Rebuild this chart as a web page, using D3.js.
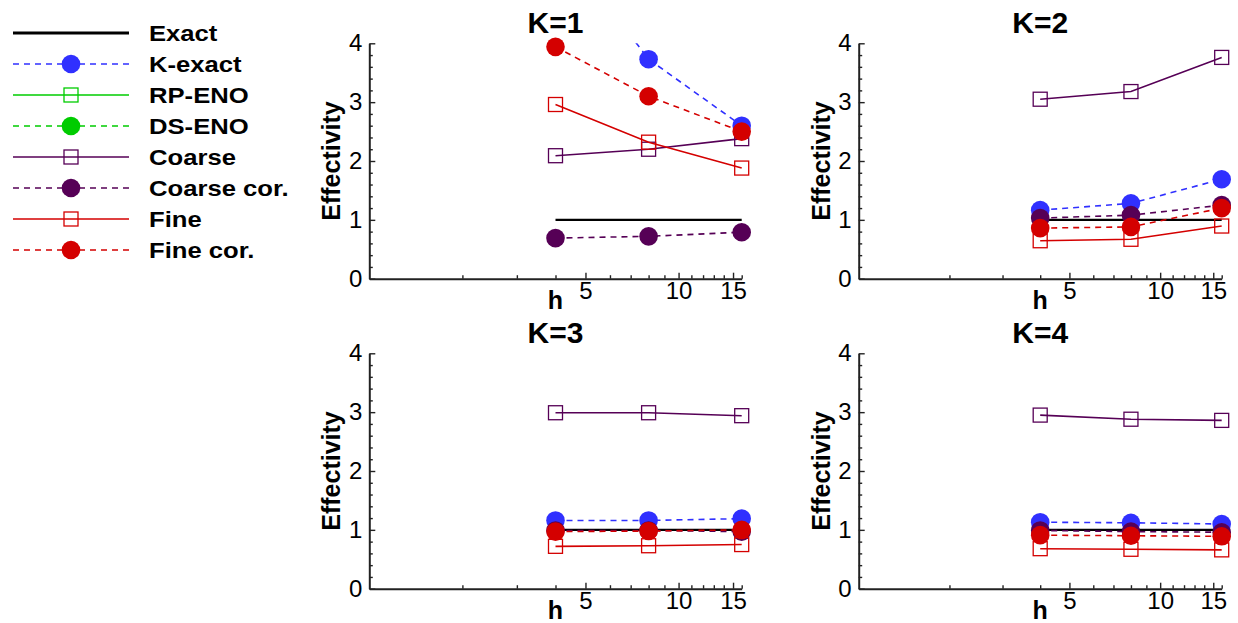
<!DOCTYPE html>
<html>
<head>
<meta charset="utf-8">
<script src="https://cdn.jsdelivr.net/npm/d3@7"></script>
<style>
  html, body { margin: 0; padding: 0; background: #fff; }
  svg { display: block; font-family: Arial, "Liberation Sans", Helvetica, sans-serif; }
</style>
</head>
<body>
<svg id="chart" width="1238" height="623"></svg>
<script>
// Mesh size values (log axis) and tick labels
const hValues = [4, 8, 16];
const xMajorTicks = [5, 10, 15];
const xMinorTicks = [2, 3, 4, 6, 7, 8, 9, 11, 12, 13, 14, 16];
const yMajorTicks = [0, 1, 2, 3, 4];
const yMinorTicks = [0.2, 0.4, 0.6, 0.8, 1.2, 1.4, 1.6, 1.8, 2.2, 2.4, 2.6, 2.8, 3.2, 3.4, 3.6, 3.8];

const panelTitles = ["K=1", "K=2", "K=3", "K=4"];
const seriesNames = ["Exact", "K-exact", "RP-ENO", "DS-ENO", "Coarse", "Coarse cor.", "Fine", "Fine cor."];

// Effectivity per panel (K=1..4), one value per h
const exact     = [[1, 1, 1], [1, 1, 1], [1, 1, 1], [1, 1, 1]];
const kExact    = [[5.8, 3.73, 2.6], [1.165, 1.28, 1.69], [1.16, 1.16, 1.19], [1.13, 1.12, 1.10]];
const rpEno     = [[], [], [], []];
const dsEno     = [[], [], [], []];
const coarse    = [[2.09, 2.2, 2.38], [3.05, 3.18, 3.76], [2.99, 2.99, 2.94], [2.95, 2.88, 2.86]];
const coarseCor = [[0.69, 0.72, 0.79], [1.03, 1.08, 1.25], [0.99, 0.99, 0.97], [0.99, 0.97, 0.96]];
const fine      = [[2.96, 2.32, 1.88], [0.645, 0.67, 0.895], [0.72, 0.73, 0.75], [0.68, 0.67, 0.66]];
const fineCor   = [[3.94, 3.1, 2.5], [0.86, 0.88, 1.2], [0.97, 0.98, 1.0], [0.91, 0.90, 0.89]];

const BLUE = "#3030ff", GREEN = "#00cc00", PURPLE = "#560056", RED = "#d40000";

const series = [
  { name: seriesNames[0], values: exact,     color: "#000", dash: null,  marker: "none",   width: 2.4 },
  { name: seriesNames[1], values: kExact,    color: BLUE,   dash: "6,5", marker: "circle", width: 1.6 },
  { name: seriesNames[2], values: rpEno,     color: GREEN,  dash: null,  marker: "square", width: 1.6 },
  { name: seriesNames[3], values: dsEno,     color: GREEN,  dash: "6,5", marker: "circle", width: 1.6 },
  { name: seriesNames[4], values: coarse,    color: PURPLE, dash: null,  marker: "square", width: 1.6 },
  { name: seriesNames[5], values: coarseCor, color: PURPLE, dash: "6,5", marker: "circle", width: 1.6 },
  { name: seriesNames[6], values: fine,      color: RED,    dash: null,  marker: "square", width: 1.6 },
  { name: seriesNames[7], values: fineCor,   color: RED,    dash: "6,5", marker: "circle", width: 1.6 }
];

const svg = d3.select("#chart");
const R = 9.3, SQ = 14;
const TICK_FONT = 24;

// Panel frames (axis extents in pixels)
const panels = [
  { left: 369.3, right: 741.7,  top: 43.3,  bottom: 278.7 },
  { left: 858.7, right: 1221.7, top: 43.3,  bottom: 278.7 },
  { left: 369.3, right: 741.7,  top: 353.3, bottom: 588.7 },
  { left: 858.7, right: 1221.7, top: 353.3, bottom: 588.7 }
];

function drawMarker(g, type, cx, cy, color) {
  if (type === "circle") {
    g.append("circle").attr("cx", cx).attr("cy", cy).attr("r", R).attr("fill", color);
  } else if (type === "square") {
    g.append("rect").attr("x", cx - SQ / 2).attr("y", cy - SQ / 2)
      .attr("width", SQ).attr("height", SQ)
      .attr("fill", "none").attr("stroke", color).attr("stroke-width", 1.3);
  }
}

panels.forEach((p, k) => {
  const x = d3.scaleLog().domain([1, 16]).range([p.left, p.right]);
  const y = d3.scaleLinear().domain([0, 4]).range([p.bottom, p.top]);
  const g = svg.append("g");

  const clipId = "clip" + k;
  svg.append("clipPath").attr("id", clipId).append("rect")
    .attr("x", p.left - 40).attr("y", p.top)
    .attr("width", p.right - p.left + 80).attr("height", p.bottom - p.top + 40);

  // Minor ticks
  g.append("g").attr("transform", `translate(${p.left},0)`)
    .call(d3.axisLeft(y).tickValues(yMinorTicks).tickSize(-3.5).tickFormat(""))
    .call(a => a.select(".domain").remove())
    .call(a => a.selectAll("line").attr("stroke", "#222").attr("stroke-width", 1.4));
  g.append("g").attr("transform", `translate(0,${p.bottom})`)
    .call(d3.axisBottom(x).tickValues(xMinorTicks).tickSize(-3.5).tickFormat(""))
    .call(a => a.select(".domain").remove())
    .call(a => a.selectAll("line").attr("stroke", "#222").attr("stroke-width", 1.4));

  // Major axes
  g.append("g").attr("transform", `translate(${p.left},0)`)
    .call(d3.axisLeft(y).tickValues(yMajorTicks).tickSize(-6).tickSizeOuter(0).tickPadding(7).tickFormat(d3.format("d")))
    .call(a => a.select(".domain").attr("stroke", "#222").attr("stroke-width", 2))
    .call(a => a.selectAll("line").attr("stroke", "#222").attr("stroke-width", 1.4))
    .call(a => a.selectAll("text").attr("font-size", TICK_FONT).attr("fill", "#000")
      .attr("font-family", 'Arial, "Liberation Sans", sans-serif'));
  g.append("g").attr("transform", `translate(0,${p.bottom})`)
    .call(d3.axisBottom(x).tickValues(xMajorTicks).tickSize(-6).tickSizeOuter(0).tickPadding(3).tickFormat(d3.format("d")))
    .call(a => a.select(".domain").attr("stroke", "#222").attr("stroke-width", 2))
    .call(a => a.selectAll("line").attr("stroke", "#222").attr("stroke-width", 1.4))
    .call(a => a.selectAll("text").attr("font-size", TICK_FONT).attr("fill", "#000")
      .attr("font-family", 'Arial, "Liberation Sans", sans-serif'));

  // Titles
  const cx = (p.left + p.right) / 2;
  g.append("text").attr("x", cx).attr("y", p.top - 10).attr("text-anchor", "middle")
    .attr("font-size", 30).attr("font-weight", "bold").text(panelTitles[k]);
  g.append("text").attr("x", cx).attr("y", p.bottom + 30).attr("text-anchor", "middle")
    .attr("font-size", 25).attr("font-weight", "bold").text("h");
  g.append("text")
    .attr("transform", `translate(${p.left - 29},${(p.top + p.bottom) / 2}) rotate(-90)`)
    .attr("text-anchor", "middle").attr("font-size", 25).attr("font-weight", "bold").text("Effectivity");

  // Series lines then markers
  const line = d3.line().x(d => x(d[0])).y(d => y(d[1]));
  series.forEach(s => {
    const vals = s.values[k];
    if (!vals.length) return;
    const pts = vals.map((v, i) => [hValues[i], v]);
    g.append("path").attr("d", line(pts)).attr("fill", "none")
      .attr("stroke", s.color).attr("stroke-width", s.width)
      .attr("stroke-dasharray", s.dash).attr("clip-path", `url(#${clipId})`);
    const mg = g.append("g");
    pts.filter(d => d[1] <= 4).forEach(d => drawMarker(mg, s.marker, x(d[0]), y(d[1]), s.color));
  });
});

// Legend
const legend = svg.append("g");
series.forEach((s, i) => {
  const ly = 33 + i * 31;
  legend.append("line").attr("x1", 13).attr("x2", 129).attr("y1", ly).attr("y2", ly)
    .attr("stroke", s.color).attr("stroke-width", i === 0 ? 3 : 1.5)
    .attr("stroke-dasharray", s.dash);
  drawMarker(legend, s.marker, 71, ly, s.color);
  legend.append("text")
    .attr("transform", `translate(149,${ly + 8}) scale(1.14,1)`)
    .attr("font-size", 22.5).attr("font-weight", "bold").text(s.name);
});
</script>
</body>
</html>
